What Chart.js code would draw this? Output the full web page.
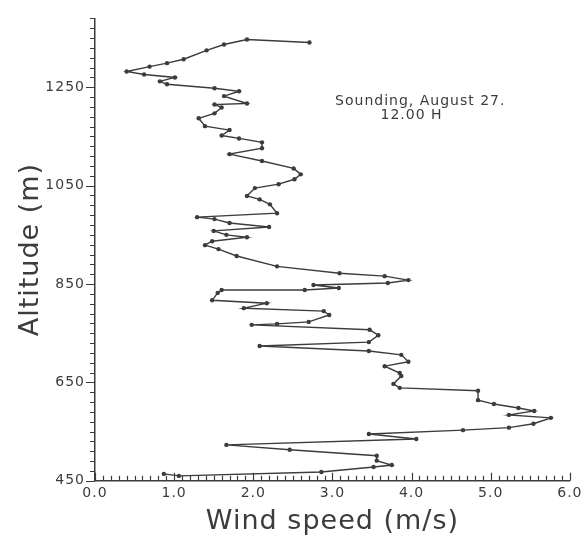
<!DOCTYPE html>
<html>
<head>
<meta charset="utf-8">
<script src="https://cdn.jsdelivr.net/npm/chart.js@4/dist/chart.umd.min.js"></script>
<style>
html,body{margin:0;padding:0;background:#fff}
#wrap{width:585px;height:548px;position:relative}
</style>
</head>
<body>
<div id="wrap"><canvas id="c"></canvas></div>
<script>
// Wind speed (m/s) along the sounding, from the lowest altitude upward
const windSpeed = [
  0.87, 1.06, 2.86, 3.52, 3.75, 3.56, 3.56, 2.46, 1.66, 4.06,
  3.46, 4.65, 5.23, 5.54, 5.76, 5.23, 5.55, 5.35, 5.04, 4.84,
  4.84, 3.85, 3.77, 3.87, 3.85, 3.66, 3.96, 3.87, 3.46, 2.08,
  3.46, 3.58, 3.47, 1.98, 2.30, 2.70, 2.96, 2.89, 1.88, 2.17,
  1.48, 1.55, 1.60, 2.65, 3.08, 2.76, 3.70, 3.96, 3.66, 3.09,
  2.30, 1.79, 1.56, 1.39, 1.48, 1.92, 1.66, 1.50, 2.20, 1.70,
  1.51, 1.29, 2.30, 2.21, 2.08, 1.92, 2.02, 2.32, 2.52, 2.60,
  2.51, 2.11, 1.70, 2.11, 2.11, 1.82, 1.60, 1.70, 1.39, 1.31,
  1.51, 1.60, 1.51, 1.92, 1.63, 1.82, 1.51, 0.91, 0.82, 1.01,
  0.62, 0.40, 0.69, 0.91, 1.12, 1.41, 1.63, 1.92, 2.71
];
// Altitude (m) of each reading
const altitude = [
  464, 460, 468, 478, 482, 491, 501, 513, 523, 535,
  545, 553, 558, 566, 578, 584, 592, 598, 606, 614,
  633, 639, 647, 663, 669, 683, 692, 706, 714, 724,
  732, 746, 757, 767, 769, 773, 787, 795, 801, 811,
  817, 832, 838, 838, 842, 848, 852, 858, 866, 872,
  886, 907, 921, 929, 937, 945, 950, 958, 966, 974,
  982, 986, 994, 1012, 1022, 1029, 1045, 1053, 1063, 1073,
  1085, 1100, 1114, 1126, 1138, 1146, 1152, 1163, 1171, 1187,
  1197, 1209, 1215, 1217, 1232, 1242, 1248, 1256, 1262, 1270,
  1276, 1282, 1292, 1299, 1307, 1325, 1337, 1347, 1341
];
const xTickValues = [0, 1, 2, 3, 4, 5, 6];
const yTickValues = [450, 650, 850, 1050, 1250];
const noteLines = ['Sounding, August 27.', '12.00 H'];

const INK = '#3c3c3c';
const FONT = '"DejaVu Sans", sans-serif';

const points = windSpeed.map((v, i) => ({ x: v, y: altitude[i] }));

const axisTicks = {
  id: 'axisTicks',
  beforeDraw(chart) {
    chart.ctx.letterSpacing = '1px';
  },
  afterDraw(chart) {
    const { ctx, chartArea: a, scales: { x, y } } = chart;
    ctx.save();
    ctx.strokeStyle = INK;
    ctx.lineWidth = 1.2;
    ctx.beginPath();
    for (let i = 0; i <= 60; i++) {
      const px = Math.round(x.getPixelForValue(i / 10)) + 0.5;
      const len = i % 10 === 0 ? 8 : 5;
      ctx.moveTo(px, a.bottom);
      ctx.lineTo(px, a.bottom - len);
    }
    for (let v = 450; v <= 1390; v += 20) {
      const py = Math.round(y.getPixelForValue(v)) + 0.5;
      const len = (v - 450) % 200 === 0 ? 9 : 5;
      ctx.moveTo(a.left, py);
      ctx.lineTo(a.left - len, py);
    }
    ctx.stroke();
    ctx.fillStyle = INK;
    ctx.font = '14px ' + FONT;
    ctx.letterSpacing = '1px';
    ctx.textAlign = 'center';
    ctx.textBaseline = 'middle';
    ctx.fillText(noteLines[0], x.getPixelForValue(4.11), y.getPixelForValue(1221));
    ctx.fillText(noteLines[1], x.getPixelForValue(4.0), y.getPixelForValue(1192));
    ctx.restore();
    ctx.letterSpacing = '0px';
  }
};

new Chart(document.getElementById('c'), {
  type: 'scatter',
  data: {
    datasets: [{
      data: points,
      showLine: true,
      borderColor: INK,
      borderWidth: 1.4,
      backgroundColor: INK,
      pointRadius: 2.2,
      pointHoverRadius: 2.2,
      pointBorderWidth: 0,
      tension: 0
    }]
  },
  options: {
    responsive: true,
    maintainAspectRatio: false,
    animation: false,
    events: [],
    layout: { padding: { left: 15, right: 6, top: 18, bottom: 10 } },
    plugins: { legend: { display: false }, tooltip: { enabled: false } },
    scales: {
      x: {
        type: 'linear',
        min: 0, max: 6,
        afterBuildTicks: (axis) => { axis.ticks = xTickValues.map(v => ({ value: v })); },
        ticks: {
          color: INK,
          font: { family: FONT, size: 14 },
          padding: 4,
          maxRotation: 0,
          autoSkip: false,
          callback: (v) => Number(v).toFixed(1)
        },
        grid: { display: false, drawTicks: false },
        border: { display: true, color: INK, width: 1.5 },
        title: {
          display: true,
          text: 'Wind speed (m/s)',
          color: INK,
          font: { family: FONT, size: 27 },
          padding: { top: 0, bottom: 0 }
        }
      },
      y: {
        type: 'linear',
        min: 450, max: 1390,
        afterBuildTicks: (axis) => { axis.ticks = yTickValues.map(v => ({ value: v })); },
        afterFit: (axis) => { axis.width = 80; },
        ticks: {
          color: INK,
          font: { family: FONT, size: 14 },
          padding: 10,
          autoSkip: false,
          callback: (v) => String(v)
        },
        grid: { display: false, drawTicks: false },
        border: { display: true, color: INK, width: 1.5 },
        title: {
          display: true,
          text: 'Altitude (m)',
          color: INK,
          font: { family: FONT, size: 27 },
          padding: { top: 0, bottom: 0 }
        }
      }
    }
  },
  plugins: [axisTicks]
});
</script>
</body>
</html>
